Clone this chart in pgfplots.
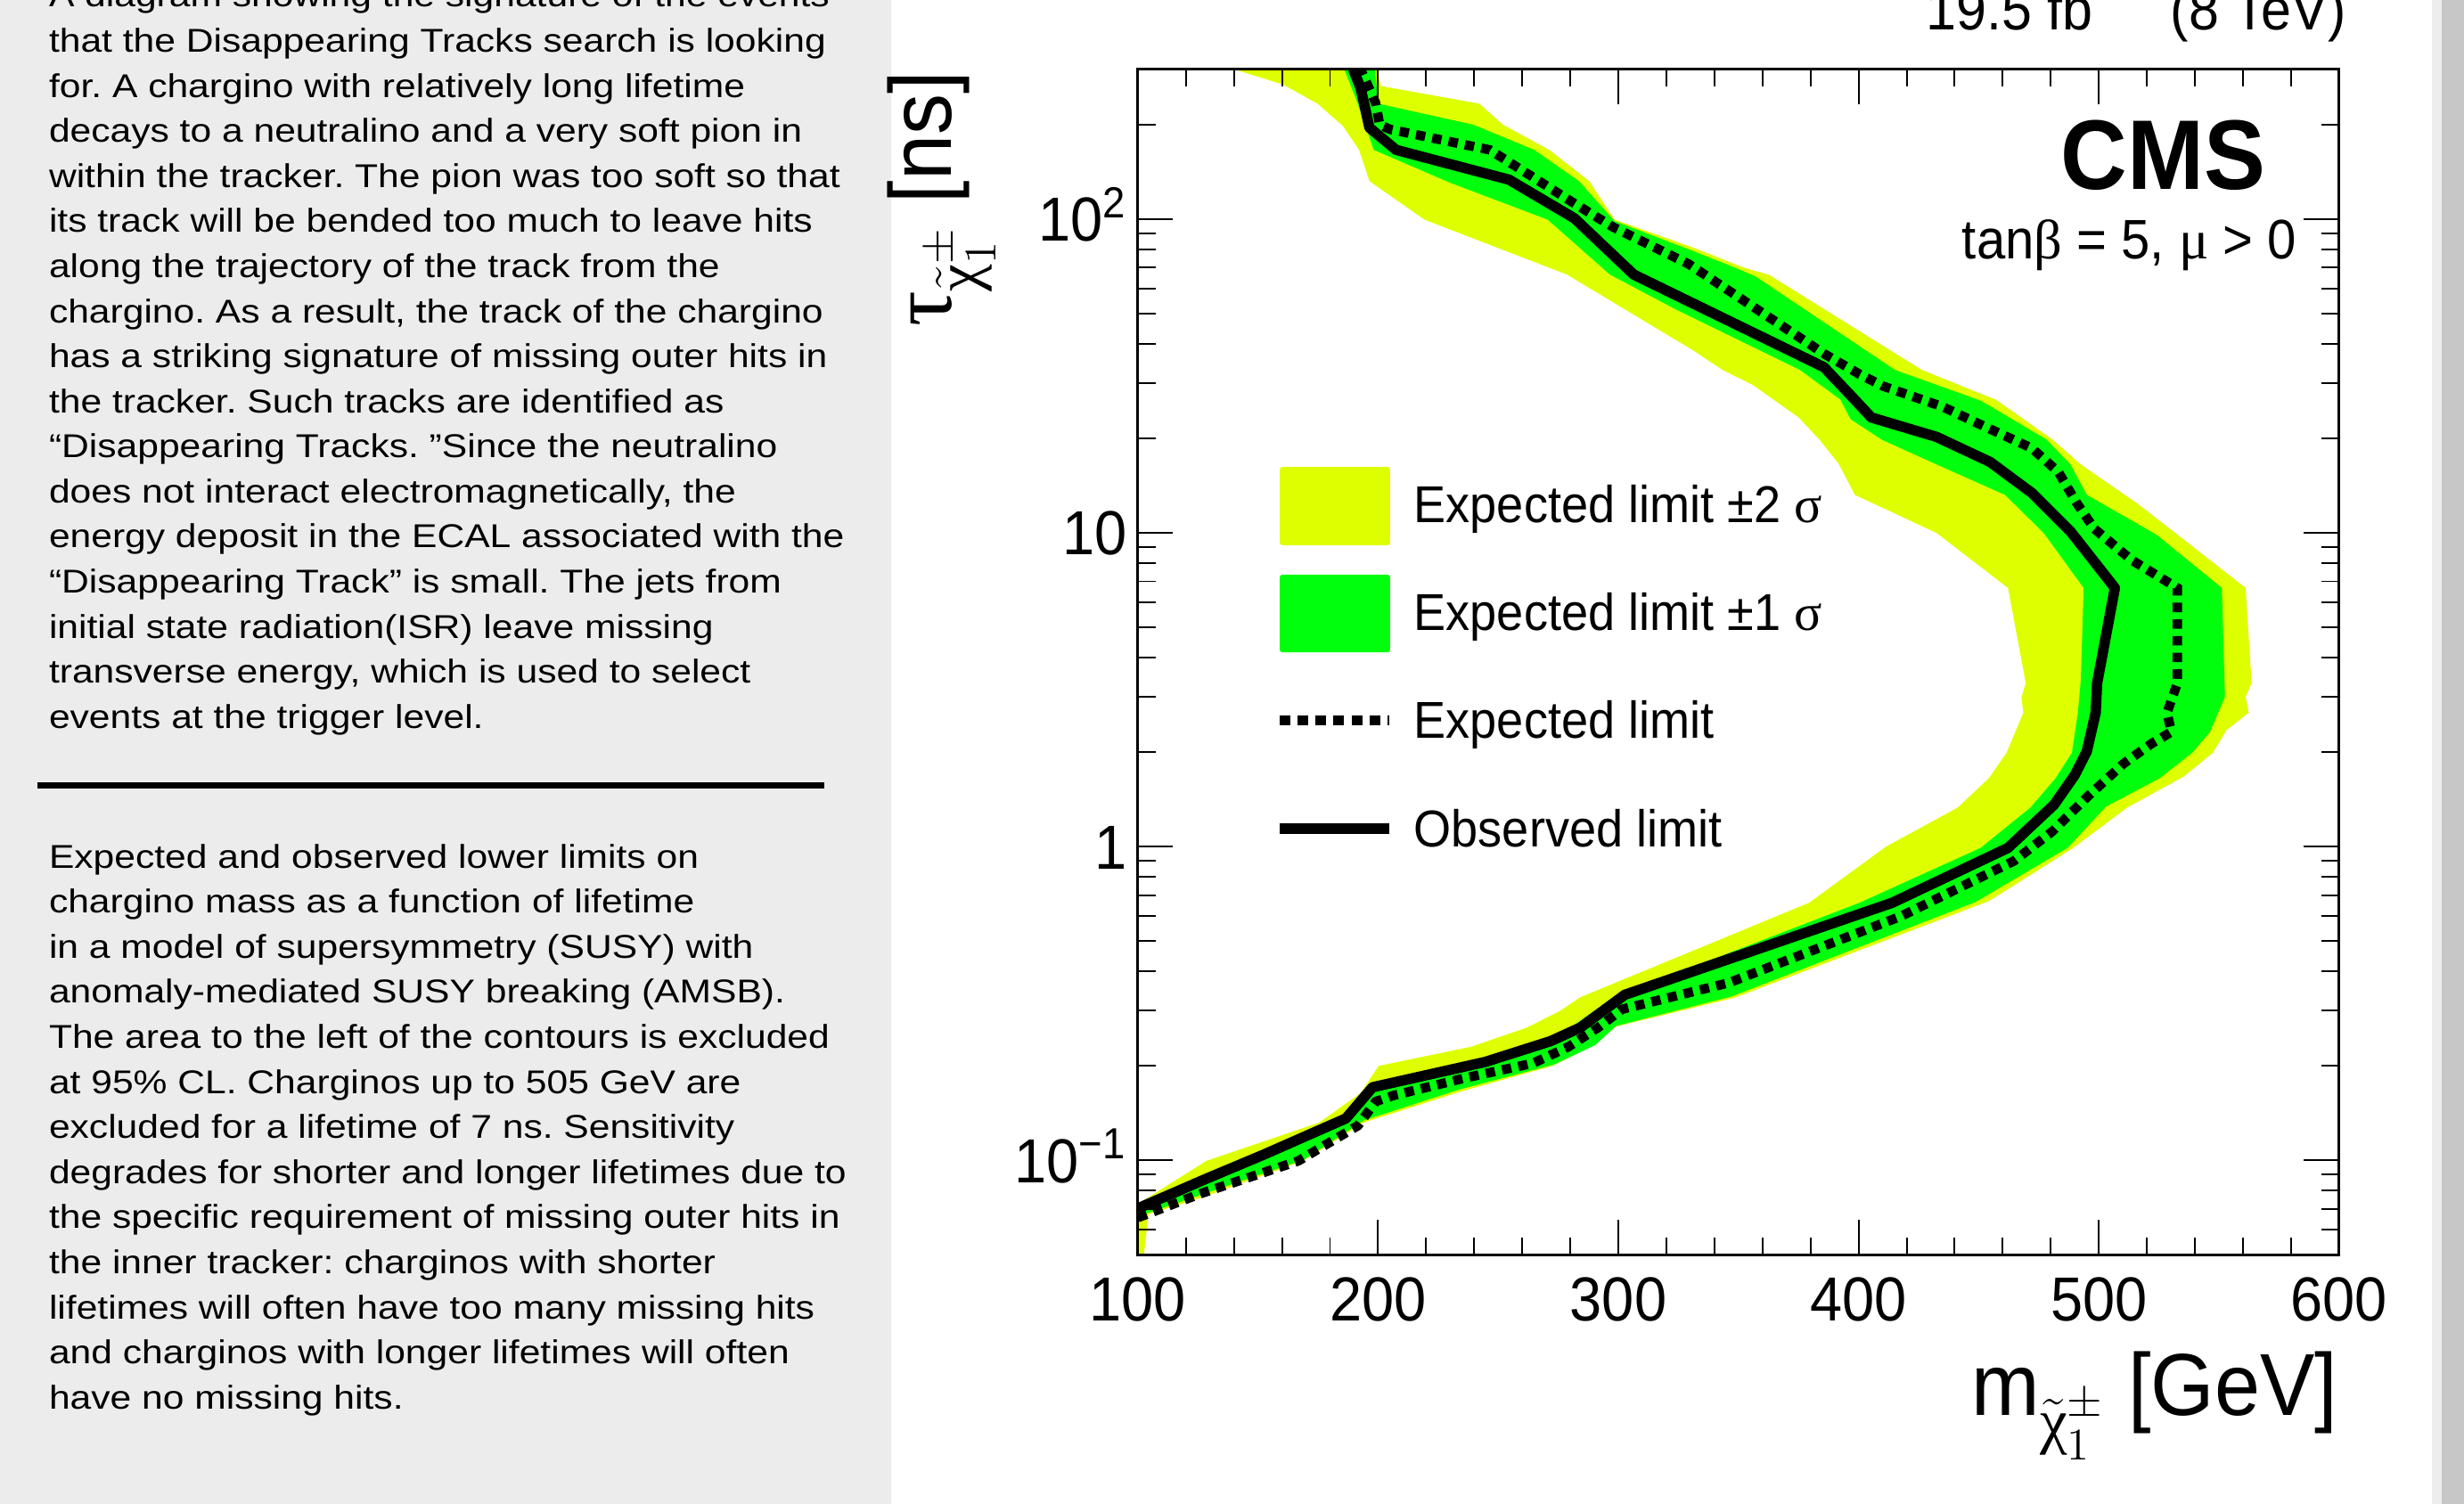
\documentclass[border=0pt]{standalone}
\usepackage{amsmath}
\usepackage{fontspec}
\usepackage{pgfplots}
\pgfplotsset{compat=1.18}
\setmainfont{Liberation Sans}
\newfontfamily\panelfont[FakeStretch=1.15]{Liberation Sans}
\newfontfamily\rootfont[FakeStretch=0.93]{Liberation Sans}
\newfontfamily\greek{Liberation Serif}
\definecolor{bandyellow}{RGB}{222,255,0}
\definecolor{bandgreen}{RGB}{0,255,12}
\definecolor{panelgray}{RGB}{236,236,236}
\frenchspacing

\begin{document}
\begin{tikzpicture}
\useasboundingbox (0,0) rectangle (784pt,478.6pt);
\clip (0,0) rectangle (784pt,478.6pt);
\fill[white] (0,0) rectangle (784pt,478.6pt);
\fill[panelgray] (0,0) rectangle (283.55pt,478.6pt);
\fill[black!7] (773.7pt,0) rectangle (776.9pt,478.6pt);
\fill[black!22] (776.9pt,0) rectangle (784pt,478.6pt);

% caption text on the left
\foreach \t [count=\i from 0, evaluate=\i as \yy using 476.36-14.345*\i] in {
  {A diagram showing the signature of the events},
  {that the Disappearing Tracks search is looking},
  {for. A chargino with relatively long lifetime},
  {decays to a neutralino and a very soft pion in},
  {within the tracker. The pion was too soft so that},
  {its track will be bended too much to leave hits},
  {along the trajectory of the track from the},
  {chargino. As a result, the track of the chargino},
  {has a striking signature of missing outer hits in},
  {the tracker. Such tracks are identified as},
  {“Disappearing Tracks. ”Since the neutralino},
  {does not interact electromagnetically, the},
  {energy deposit in the ECAL associated with the},
  {“Disappearing Track” is small. The jets from},
  {initial state radiation(ISR) leave missing},
  {transverse energy, which is used to select},
  {events at the trigger level.}}
  \node[anchor=base west, inner sep=0, font=\panelfont\fontsize{10.5}{14}\selectfont] at (15.4pt,\yy pt) {\t};

\draw[line width=2pt] (11.8pt,228.7pt) -- (262.2pt,228.7pt);

\foreach \t [count=\i from 0, evaluate=\i as \yy using 202.42-14.348*\i] in {
  {Expected and observed lower limits on},
  {chargino mass as a function of lifetime},
  {in a model of supersymmetry (SUSY) with},
  {anomaly-mediated SUSY breaking (AMSB).},
  {The area to the left of the contours is excluded},
  {at 95\% CL. Charginos up to 505 GeV are},
  {excluded for a lifetime of 7 ns. Sensitivity},
  {degrades for shorter and longer lifetimes due to},
  {the specific requirement of missing outer hits in},
  {the inner tracker: charginos with shorter},
  {lifetimes will often have too many missing hits},
  {and charginos with longer lifetimes will often},
  {have no missing hits.}}
  \node[anchor=base west, inner sep=0, font=\panelfont\fontsize{10.5}{14}\selectfont] at (15.4pt,\yy pt) {\t};

\begin{axis}[
    at={(362.04pt,79.27pt)}, anchor=south west,
    scale only axis, width=382.2pt, height=377.3pt,
    xmin=100, xmax=600,
    ymode=log, ymin=0.05, ymax=300,
    xtick={100,200,300,400,500,600},
    xticklabels={100,200,300,400,500,600},
    minor x tick num=4,
    ytick={0.1,1,10,100},
    yticklabels={10\textsuperscript{−1},1,10,10\textsuperscript{2}},
    minor ytick={0.06,0.07,0.08,0.09,0.2,0.3,0.4,0.5,0.6,0.7,0.8,0.9,2,3,4,5,6,7,8,9,20,30,40,50,60,70,80,90,200},
    tick pos=both, tick align=inside,
    major tick length=11.2pt, minor tick length=5.6pt,
    every tick/.style={black, line width=0.55pt},
    axis line style={line width=0.8pt},
    axis on top,
    ticklabel style={font=\rootfont\fontsize{19.8}{23}\selectfont},
    xticklabel style={yshift=-3.8pt},
    yticklabel style={anchor=base east, yshift=-7.1pt},
]
% expected +-2 sigma band
\addplot[draw=none, fill=bandyellow] coordinates {
 (100,0.05) (102.5,0.05) (104.4,0.0673) (127.9,0.0767) (168.7,0.0996) (194.0,0.132)
 (234.8,0.166) (272.5,0.200) (289.9,0.233) (299.0,0.267) (348.5,0.330) (454.2,0.67)
 (489.4,0.99) (511.7,1.33) (535.2,1.67) (547.5,1.99) (553.1,2.35) (562.4,2.67)
 (561.1,3.0) (563.6,3.32) (561.1,6.67) (532.7,9.86) (516.6,12.3) (492.5,16.5)
 (480.8,19.8) (457.3,26.5) (426.4,33) (362.7,66.4) (352.2,70) (331.2,81)
 (298.4,99.5) (287.9,132) (271.2,166) (252.0,199.6) (242.1,233) (201.3,265) (199.5,300)
 (140,300) (160.5,268) (174.8,233) (185.3,198) (192.1,166) (196.4,132) (219.3,99.5)
 (278.6,66.5) (331.2,38.1) (343.5,33) (355.9,29.6) (375.1,23.3) (383.7,19.8)
 (391.7,16.6) (398.5,13.2) (432.5,9.98) (462.2,6.67) (469.6,3.32) (467.8,2.98)
 (468.6,2.67) (461.6,1.99) (454.2,1.65) (441.2,1.33) (411.5,1.0) (379.4,0.662)
 (284.2,0.331) (275.6,0.299) (262.0,0.265) (238.6,0.230) (200.2,0.200) (192.8,0.164)
 (175.5,0.132) (128.5,0.0996) (100,0.0726)} -- cycle;
% expected +-1 sigma band
\addplot[draw=none, fill=bandgreen] coordinates {
 (100,0.064) (102.5,0.0673) (169.3,0.1006) (194.0,0.134) (233.6,0.168) (273.2,0.202)
 (290.4,0.233) (299.0,0.268) (347.2,0.333) (448.6,0.665) (487.0,0.99) (503.0,1.34)
 (525.3,1.65) (538.9,1.99) (546.3,2.32) (552.5,3.0) (551.2,6.67) (524.0,9.86)
 (495.0,13.2) (488.2,16.5) (478.3,19.8) (451.1,26.3) (432.5,29.6) (415.2,33)
 (357.1,65.6) (348.5,70) (331.2,79) (298.4,98.5) (283.6,132) (265.0,166)
 (239.7,199.6) (200.1,233) (198.6,300)
 (185.9,300) (191.4,235) (198.2,166) (229.8,130.6) (270.6,99.5) (296.5,66.5)
 (323.7,51.6) (375.7,33) (392.4,26.6) (396.7,23.0) (409.7,19.8) (432.5,16.5)
 (461.0,13.2) (477.1,9.98) (493.7,6.67) (492.5,3.39) (491.3,2.67) (488.8,1.99)
 (482.0,1.65) (471.5,1.33) (450.8,0.99) (400.4,0.662) (297.8,0.330) (279.2,0.262)
 (273.2,0.246) (242.3,0.206) (197.7,0.173) (186.6,0.138) (149.5,0.103) (100,0.0727)} -- cycle;
% expected limit
\addplot[black, line width=3pt, dash pattern=on 3pt off 2.3pt] coordinates {
 (100,0.0657) (126.0,0.0783) (166.8,0.0996) (191.6,0.129) (199.0,0.154) (206.4,0.161)
 (236.1,0.183) (264.5,0.204) (279.2,0.230) (291.6,0.265) (301.5,0.303) (346.0,0.368)
 (417.7,0.60) (464.7,0.90) (480.8,1.12) (495.6,1.45) (510.4,1.84) (521.6,2.12)
 (530.2,2.32) (528.4,2.67) (532.7,3.32) (532.7,6.67) (513.5,8.2) (498.1,10.3)
 (490.6,12.5) (483.2,15.6) (472.1,18.6) (453.6,21.6) (435.0,25.2) (410.3,29.3)
 (400.4,32) (385.6,37.2) (329.3,71.8) (297.8,94.2) (281.7,112) (246.5,166)
 (205.0,193) (200.7,199.5) (198.9,235) (192.7,300)};
% observed limit
\addplot[black, line width=3.3pt, line join=round] coordinates {
 (100,0.0703) (128.5,0.0874) (152.0,0.104) (186.6,0.136) (197.7,0.171) (244.7,0.206)
 (271.9,0.240) (284.2,0.265) (302.7,0.337) (414.0,0.662) (462.2,0.99) (481.4,1.36)
 (490.0,1.69) (495.0,2.01) (498.7,2.67) (499.3,3.32) (506.7,6.67) (488.2,10.1)
 (472.1,13.4) (454.8,16.8) (432.5,20.2) (405.3,23.3) (397.9,26.8) (385.6,33.7)
 (306.4,66.5) (281.7,100.5) (254.5,133.4) (207.5,166) (196.4,195.4) (192.7,262)
 (189.6,300)};
\end{axis}

% legend
\fill[bandyellow, rounded corners=0.8pt] (407.2pt,305.1pt) rectangle (442.3pt,330.0pt);
\fill[bandgreen, rounded corners=0.8pt] (407.2pt,271.0pt) rectangle (442.3pt,295.7pt);
\draw[black, line width=3.3pt, dash pattern=on 3.4pt off 2.3pt] (407.2pt,249.4pt) -- (442.0pt,249.4pt);
\draw[black, line width=3.6pt] (407.2pt,214.9pt) -- (442.0pt,214.9pt);
\begin{scope}[every node/.style={anchor=base west, inner sep=0, font=\rootfont\fontsize{16.5}{19}\selectfont}]
\node at (449.7pt,312.2pt) {Expected limit ±2 {\greek σ}};
\node at (449.7pt,278.0pt) {Expected limit ±1 {\greek σ}};
\node at (449.7pt,243.7pt) {Expected limit};
\node at (449.7pt,209.0pt) {Observed limit};
\end{scope}

% labels
\node[anchor=base east, inner sep=0, font=\rootfont\bfseries\fontsize{31.5}{36}\selectfont] at (721.0pt,418.2pt) {CMS};
\node[anchor=base east, inner sep=0, font=\rootfont\fontsize{17.7}{21}\selectfont] at (730.9pt,396.1pt) {tan{\greek β} = 5, {\greek μ} > 0};
\node[anchor=base east, inner sep=0, font=\rootfont\fontsize{18.6}{22}\selectfont] at (746.6pt,469.2pt) {19.5 fb\,\raisebox{0.8em}{\fontsize{13}{15}\selectfont −1}\, (8 TeV)};
\node[anchor=base east, inner sep=0, font=\rootfont\fontsize{28}{32}\selectfont] at (744.0pt,28.3pt) {m$_{\raisebox{-5pt}{$\scriptstyle\tilde{\text{\greek χ}}^{\pm}_{1}$}}$ [GeV]};
\node[anchor=base east, inner sep=0, rotate=90, font=\rootfont\fontsize{28}{32}\selectfont] at (302.8pt,456.1pt) {{\greek τ}$_{\raisebox{-5pt}{$\scriptstyle\tilde{\text{\greek χ}}^{\pm}_{1}$}}$ [ns]};
\end{tikzpicture}
\end{document}
